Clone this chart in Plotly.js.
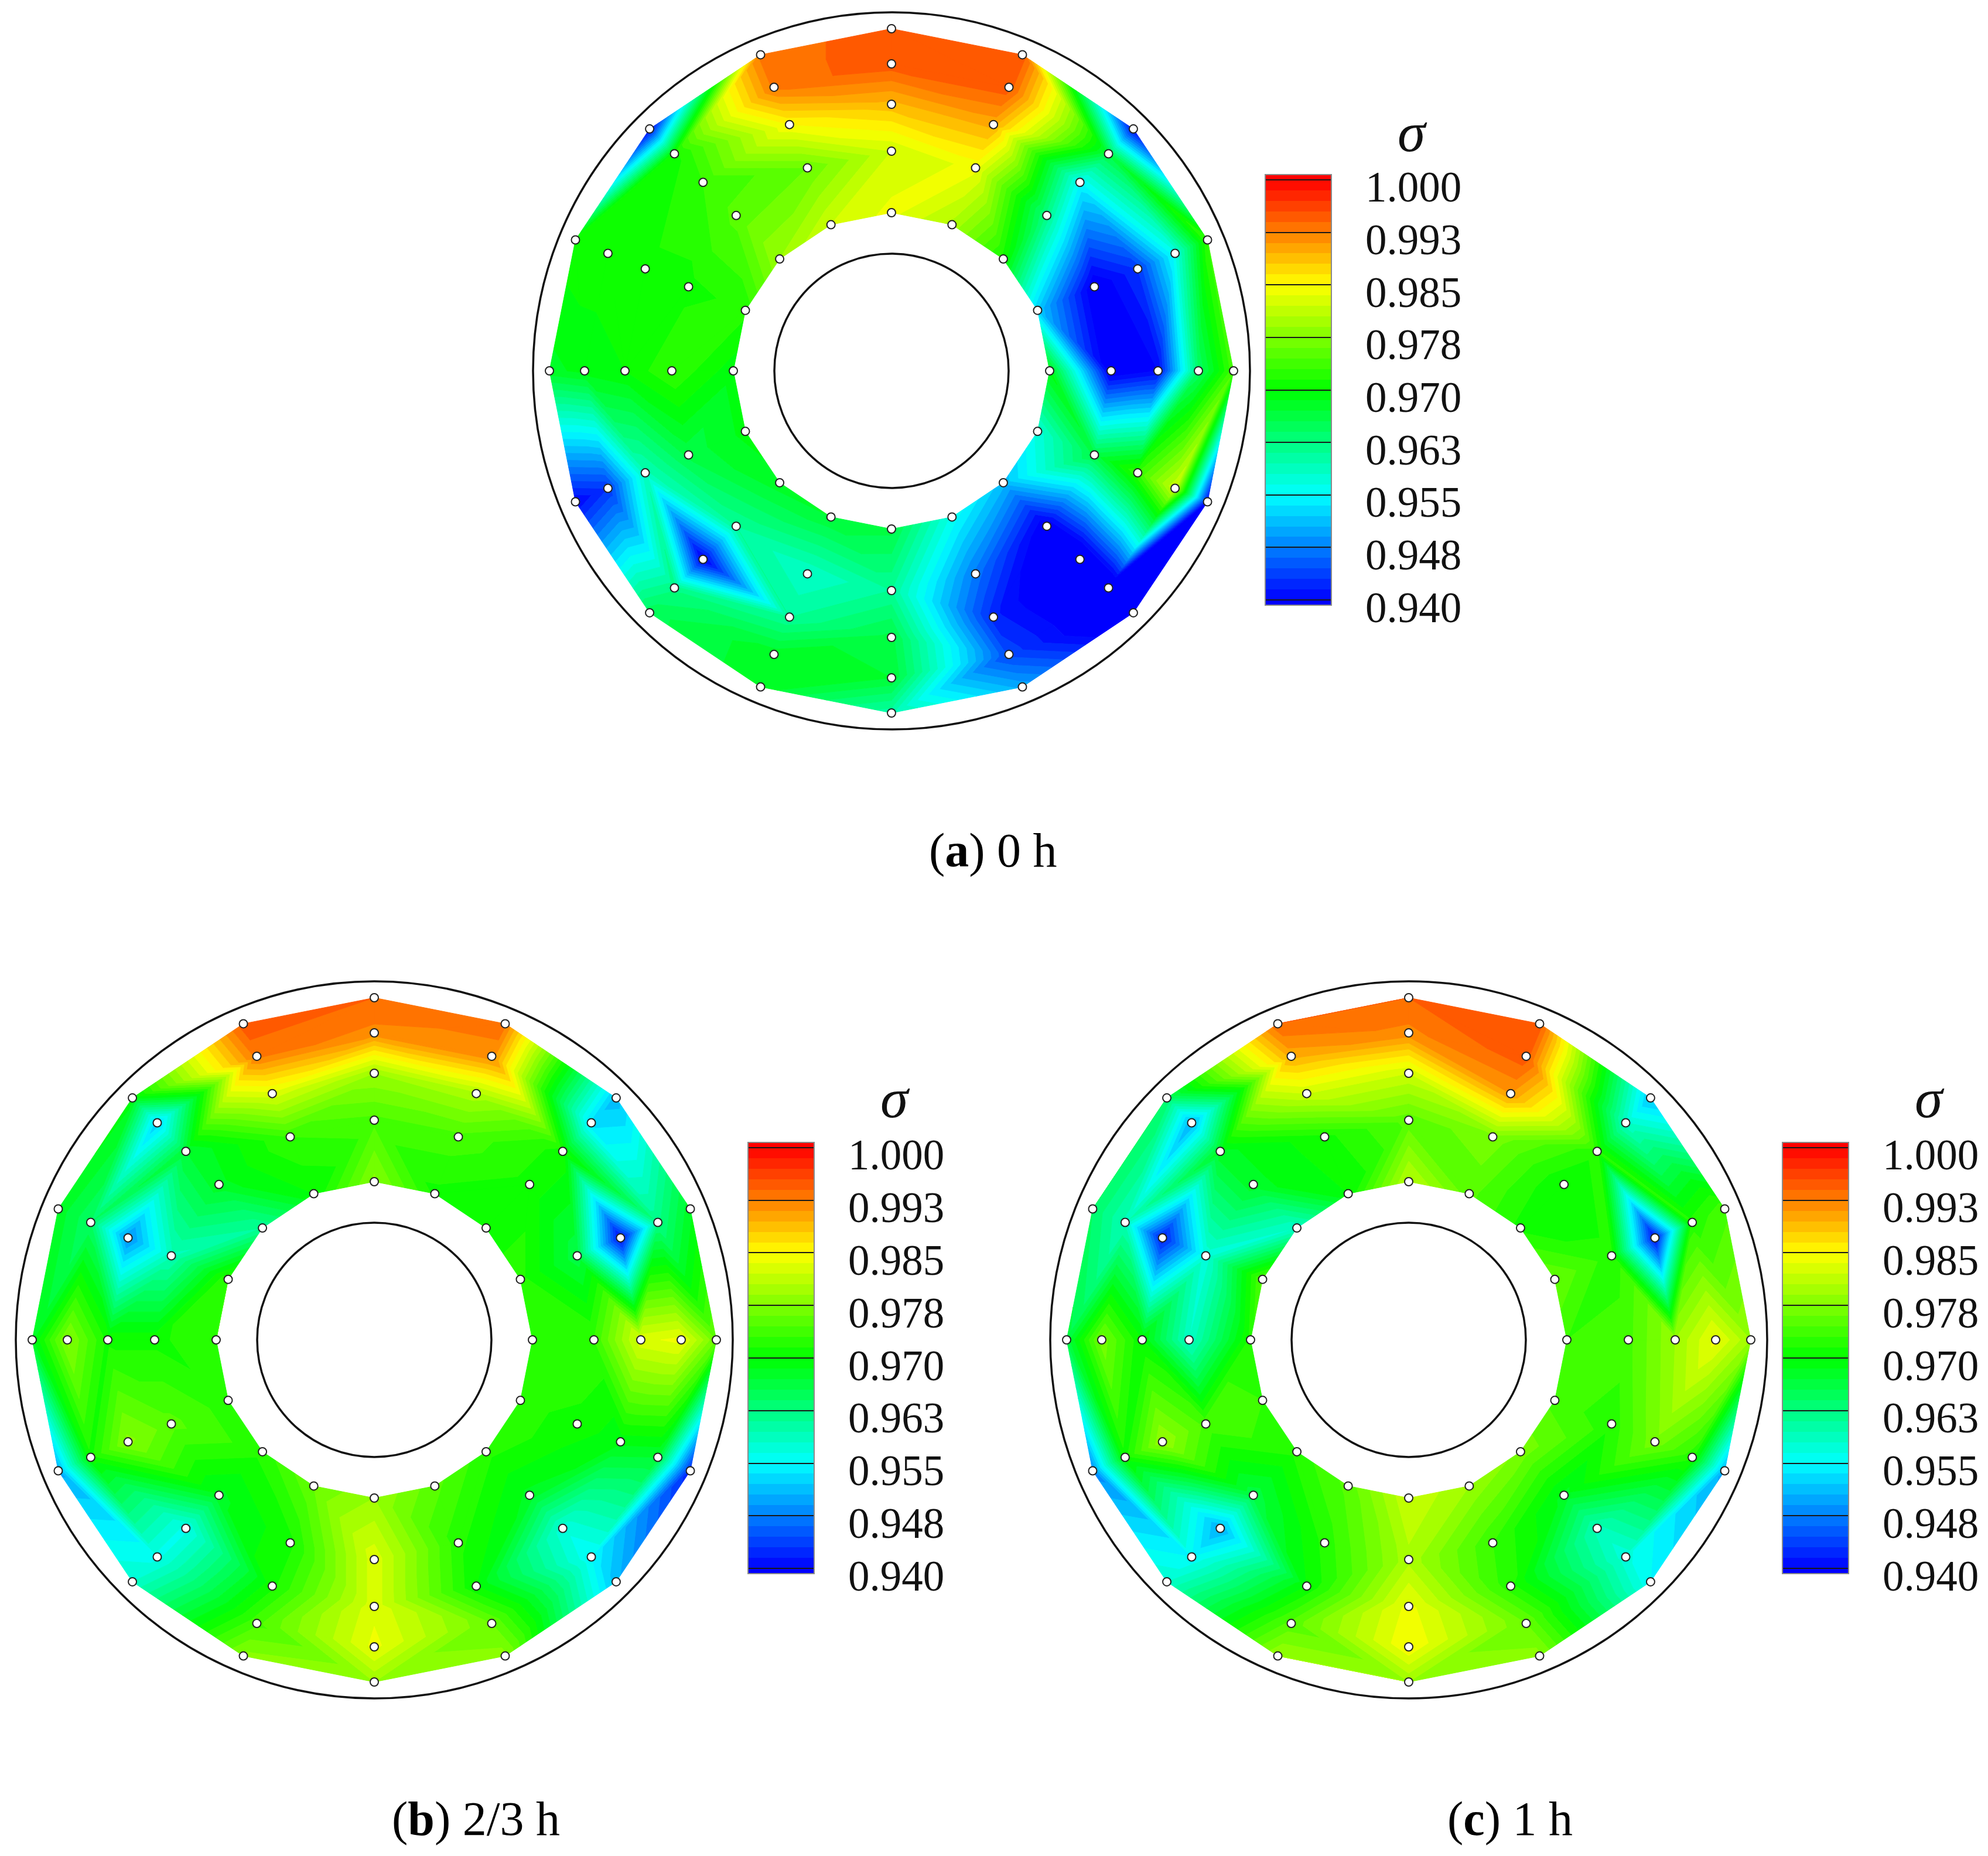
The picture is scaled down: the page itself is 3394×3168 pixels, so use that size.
<!DOCTYPE html>
<html>
<head>
<meta charset="utf-8">
<script src="https://cdn.plot.ly/plotly-3.0.1.min.js"></script>
<style>html,body{margin:0;padding:0;background:#fff}</style>
</head>
<body>
<div id="chart" style="width:3394px;height:3168px"></div>
<script>
// measuring rake radii (inner to outer) and the 16 sector angles clockwise from top
var radii = [270, 375, 455, 524, 584];
var sectorCount = 16;
var tickValues = [1.0, 0.9925, 0.985, 0.9775, 0.97, 0.9625, 0.955, 0.9475, 0.94];
var tickLabels = ['1.000', '0.993', '0.985', '0.978', '0.970', '0.963', '0.955', '0.948', '0.940'];

// each row: one sector, values inner to outer
var sigmaA = [
  [.984,.982,.989,.995,.995],
  [.980,.984,.990,.995,.995],
  [.971,.962,.955,.966,.940],
  [.952,.938,.943,.956,.973],
  [.969,.938,.940,.964,.974],
  [.957,.966,.973,.982,.940],
  [.951,.938,.935,.935,.935],
  [.956,.947,.942,.944,.950],
  [.966,.961,.966,.967,.960],
  [.967,.958,.961,.968,.968],
  [.968,.961,.939,.962,.965],
  [.969,.966,.959,.943,.940],
  [.969,.973,.970,.969,.968],
  [.972,.971,.971,.971,.971],
  [.979,.975,.973,.971,.940],
  [.982,.976,.985,.993,.993]
];
var sigmaB = [
  [.978,.974,.979,.992,.994],
  [.971,.974,.980,.992,.993],
  [.971,.971,.971,.953,.951],
  [.972,.966,.940,.962,.968],
  [.972,.973,.983,.984,.976],
  [.972,.971,.969,.967,.942],
  [.972,.968,.957,.955,.951],
  [.975,.972,.970,.976,.978],
  [.979,.983,.983,.984,.979],
  [.976,.971,.971,.974,.978],
  [.972,.968,.956,.956,.958],
  [.972,.975,.978,.971,.950],
  [.973,.971,.971,.978,.968],
  [.973,.959,.948,.964,.968],
  [.961,.968,.967,.952,.969],
  [.970,.973,.983,.993,.995]
];
var sigmaC = [
  [.981,.975,.982,.992,.994],
  [.975,.977,.991,.995,.995],
  [.971,.970,.972,.958,.951],
  [.976,.972,.940,.972,.974],
  [.973,.974,.979,.984,.979],
  [.974,.972,.977,.972,.950],
  [.977,.968,.959,.957,.955],
  [.979,.973,.972,.976,.978],
  [.982,.980,.984,.985,.979],
  [.975,.972,.970,.975,.979],
  [.972,.966,.950,.955,.958],
  [.973,.974,.979,.971,.948],
  [.972,.958,.970,.977,.966],
  [.975,.957,.941,.959,.964],
  [.958,.968,.968,.950,.964],
  [.970,.971,.982,.990,.994]
];

var W = 3394, H = 3168, HALF = 620, OUTER = 612, INNER = 200;
var LEVEL0 = 0.94, LEVEL_STEP = 0.0015, LEVEL_COUNT = 40;
var LO = 0.93925, HI = 1.00075;

// rainbow: blue .94, cyan .955, green .97, yellow .985, red 1.0
function colorAt(v) {
  var stops = [[0,0,255],[0,255,255],[0,255,0],[255,255,0],[255,0,0]];
  var t = Math.max(0, Math.min(1, (v - 0.94) / 0.06)) * 4;
  var i = Math.min(3, Math.floor(t)), f = t - i, c = stops[i], d = stops[i + 1];
  return 'rgb(' + [0, 1, 2].map(function (j) { return Math.round(c[j] + (d[j] - c[j]) * f); }).join(',') + ')';
}
function bandColor(n) {
  if (n < 0) return colorAt(LEVEL0);
  if (n >= LEVEL_COUNT) return colorAt(1);
  return colorAt(LEVEL0 + (n + 0.5) * LEVEL_STEP);
}
function bandLimits(n) {
  return [n < 0 ? -Infinity : LEVEL0 + n * LEVEL_STEP,
          n >= LEVEL_COUNT ? Infinity : LEVEL0 + (n + 1) * LEVEL_STEP];
}
// stepped colour scale for the colour bar, same bands as the field
var bandScale = (function () {
  var s = [], prev = 0;
  for (var n = -1; n <= LEVEL_COUNT; n++) {
    var hi = n >= LEVEL_COUNT ? 1 : (bandLimits(n)[1] - LO) / (HI - LO);
    s.push([prev, bandColor(n)]);
    s.push([hi, bandColor(n)]);
    prev = hi;
  }
  return s;
})();

function clip(poly, limit, keepAbove) {
  var out = [];
  for (var i = 0; i < poly.length; i++) {
    var p = poly[i], q = poly[(i + 1) % poly.length];
    var pIn = keepAbove ? p[2] >= limit : p[2] <= limit;
    var qIn = keepAbove ? q[2] >= limit : q[2] <= limit;
    if (pIn) out.push(p);
    if (pIn !== qIn) {
      var f = (limit - p[2]) / (q[2] - p[2]);
      out.push([p[0] + (q[0] - p[0]) * f, p[1] + (q[1] - p[1]) * f, limit]);
    }
  }
  return out;
}
function nodes(z) {
  var g = [];
  for (var k = 0; k <= sectorCount; k++) {
    var t = 2 * Math.PI * k / sectorCount, row = z[k % sectorCount];
    g.push(radii.map(function (r, i) { return [r * Math.sin(t), r * Math.cos(t), row[i]]; }));
  }
  return g;
}
// each rake quad is split along the diagonal joining its two closest readings
function triangles(z) {
  var g = nodes(z), tris = [];
  for (var k = 0; k < sectorCount; k++) {
    for (var i = 0; i < radii.length - 1; i++) {
      var A = g[k][i], B = g[k][i + 1], C = g[k + 1][i + 1], D = g[k + 1][i];
      if (Math.abs(A[2] - C[2]) < Math.abs(B[2] - D[2])) {
        tris.push([A, B, C]);
        tris.push([A, C, D]);
      } else {
        tris.push([A, B, D]);
        tris.push([B, C, D]);
      }
    }
  }
  return tris;
}

var panels = [
  {z:sigmaA, cx:1522, cy:633,  barX:2160, barTop:298,  barBot:1033, labX:2329, sigX:2411, sigY:225,  capX:1695, capY:1452, cap:'(<b>a</b>) 0 h', sx:'x',  sy:'y'},
  {z:sigmaB, cx:639,  cy:2287, barX:1277, barTop:1950, barBot:2686, labX:1446, sigX:1528, sigY:1874, capX:812,  capY:3104, cap:'(<b>b</b>) 2/3 h', sx:'x2', sy:'y2'},
  {z:sigmaC, cx:2405, cy:2287, barX:3043, barTop:1950, barBot:2686, labX:3212, sigX:3294, sigY:1874, capX:2578, capY:3104, cap:'(<b>c</b>) 1 h', sx:'x3', sy:'y3'}
];

var traces = [], shapes = [], annotations = [];
var layout = {
  width: W, height: H, showlegend: false,
  margin: {l:0, r:0, t:0, b:0, autoexpand:false},
  paper_bgcolor: '#fff', plot_bgcolor: 'rgba(0,0,0,0)',
  hovermode: false
};
var TEXT = 'Liberation Serif';

panels.forEach(function (p, n) {
  var id = n === 0 ? '' : String(n + 1);
  var axCfg = {range:[-HALF, HALF], visible:false, showgrid:false, zeroline:false, fixedrange:true};
  layout['xaxis' + id] = Object.assign({}, axCfg, {domain:[(p.cx - HALF) / W, (p.cx + HALF) / W], anchor:p.sy});
  layout['yaxis' + id] = Object.assign({}, axCfg, {domain:[1 - (p.cy + HALF) / H, 1 - (p.cy - HALF) / H], anchor:p.sx});

  var tris = triangles(p.z);
  for (var band = -1; band <= LEVEL_COUNT; band++) {
    var lim = bandLimits(band), xs = [], ys = [];
    tris.forEach(function (tri) {
      var poly = tri;
      if (isFinite(lim[0])) poly = clip(poly, lim[0], true);
      if (poly.length && isFinite(lim[1])) poly = clip(poly, lim[1], false);
      if (poly.length < 3) return;
      poly.forEach(function (v) { xs.push(v[0]); ys.push(v[1]); });
      xs.push(poly[0][0], null); ys.push(poly[0][1], null);
    });
    if (xs.length) {
      traces.push({type:'scatter', mode:'lines', x:xs, y:ys, xaxis:p.sx, yaxis:p.sy,
        fill:'toself', fillcolor:bandColor(band), hoverinfo:'skip',
        line:{color:bandColor(band), width:1, simplify:false}});
    }
  }

  var px = [], py = [], pv = [];
  for (var k2 = 0; k2 < sectorCount; k2++) {
    var t2 = 2 * Math.PI * k2 / sectorCount;
    radii.forEach(function (r, i) { px.push(r * Math.sin(t2)); py.push(r * Math.cos(t2)); pv.push(p.z[k2][i]); });
  }
  // the σ readings themselves carry the colour bar; the white rake markers sit on top
  traces.push({type:'scatter', mode:'markers', x:px, y:py, xaxis:p.sx, yaxis:p.sy, hoverinfo:'skip',
    marker:{size:2, color:pv, cmin:LO, cmax:HI, colorscale:bandScale, showscale:true,
      colorbar:{
        x:p.barX / W, xref:'paper', xanchor:'left', xpad:0,
        y:1 - p.barBot / H, yref:'paper', yanchor:'bottom', ypad:0,
        len:(p.barBot - p.barTop) / H, lenmode:'fraction',
        thickness:113, thicknessmode:'pixels',
        outlinecolor:'#8a8a8a', outlinewidth:2, borderwidth:0,
        tickmode:'array', tickvals:tickValues, ticktext:tickLabels,
        ticks:'inside', ticklen:113, tickwidth:2, tickcolor:'#1a1a1a',
        showticklabels:false
      }}});
  traces.push({type:'scatter', mode:'markers', x:px, y:py, xaxis:p.sx, yaxis:p.sy,
    marker:{size:14, color:'#fff', line:{color:'#222', width:2}}, hoverinfo:'skip'});

  [OUTER, INNER].forEach(function (R) {
    shapes.push({type:'circle', xref:p.sx, yref:p.sy, x0:-R, x1:R, y0:-R, y1:R,
      line:{color:'#111', width:3.5}, layer:'above'});
  });

  tickValues.forEach(function (v, i) {
    var yPx = p.barBot - (v - LO) / (HI - LO) * (p.barBot - p.barTop);
    annotations.push({xref:'paper', yref:'paper', x:p.labX / W, y:1 - yPx / H, yshift:-13,
      xanchor:'left', yanchor:'middle', showarrow:false, text:tickLabels[i],
      font:{family:TEXT, size:73, color:'#111'}});
  });
  annotations.push({xref:'paper', yref:'paper', x:p.sigX / W, y:1 - p.sigY / H,
    xanchor:'center', yanchor:'middle', showarrow:false, text:'<i>σ</i>',
    font:{family:TEXT, size:96, color:'#111'}});
  annotations.push({xref:'paper', yref:'paper', x:p.capX / W, y:1 - p.capY / H,
    xanchor:'center', yanchor:'middle', showarrow:false, text:p.cap,
    font:{family:TEXT, size:82, color:'#000'}});
});
layout.shapes = shapes;
layout.annotations = annotations;
Plotly.newPlot('chart', traces, layout, {displayModeBar:false, staticPlot:true});
</script>
</body>
</html>
